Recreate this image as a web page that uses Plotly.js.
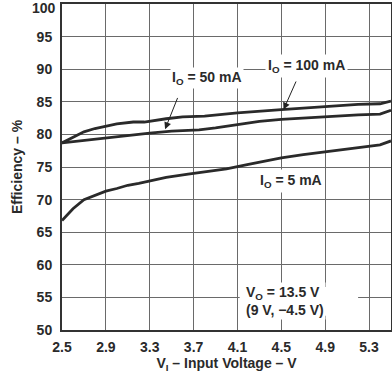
<!DOCTYPE html>
<html>
<head>
<meta charset="utf-8">
<script src="https://cdn.plot.ly/plotly-3.0.1.min.js"></script>
<style>html,body{margin:0;padding:0;background:#fff;}#chart{width:392px;height:373px;}</style>
</head>
<body>
<div id="chart"></div>
<script>
// Input voltage (V) and efficiency (%) for each load current
const x5 = [2.5, 2.6, 2.7, 2.8, 2.9, 3.0, 3.1, 3.2, 3.3, 3.45, 3.65, 3.8, 4.0, 4.2, 4.5, 4.7, 4.9, 5.1, 5.25, 5.4, 5.5];
const y5 = [66.8, 68.6, 70.0, 70.7, 71.3, 71.7, 72.2, 72.5, 72.9, 73.4, 73.9, 74.2, 74.7, 75.4, 76.4, 76.9, 77.3, 77.7, 78.1, 78.4, 79.0];

const x50 = [2.5, 2.7, 2.9, 3.1, 3.3, 3.5, 3.75, 3.9, 4.1, 4.3, 4.5, 4.7, 4.95, 5.2, 5.4, 5.5];
const y50 = [78.7, 79.1, 79.5, 79.9, 80.2, 80.5, 80.7, 81.0, 81.5, 82.0, 82.3, 82.5, 82.8, 83.0, 83.1, 83.7];

const x100 = [2.5, 2.6, 2.7, 2.8, 2.9, 3.0, 3.15, 3.25, 3.45, 3.6, 3.8, 4.1, 4.5, 4.9, 5.2, 5.4, 5.5];
const y100 = [78.7, 79.6, 80.4, 80.9, 81.3, 81.6, 81.9, 81.9, 82.4, 82.7, 82.8, 83.3, 83.8, 84.3, 84.6, 84.7, 85.1];

const xTicks = [2.5, 2.9, 3.3, 3.7, 4.1, 4.5, 4.9, 5.3];
const yTicks = [50, 55, 60, 65, 70, 75, 80, 85, 90, 95, 100];

const F = 'Liberation Sans, Arial, sans-serif';
const lineStyle = {color: '#2a2a2a', width: 2.8};

const traces = [
  {x: x5, y: y5, mode: 'lines', line: lineStyle, name: '5 mA'},
  {x: x50, y: y50, mode: 'lines', line: lineStyle, name: '50 mA'},
  {x: x100, y: y100, mode: 'lines', line: lineStyle, name: '100 mA'}
];

const txt = {family: F, size: 14, color: '#2a2a2a', weight: 'bold'};
const yTop = yTicks[yTicks.length - 1];

const layout = {
  width: 392, height: 373,
  margin: {l: 62, r: 1, t: 4, b: 43},
  paper_bgcolor: '#fff', plot_bgcolor: '#fff',
  showlegend: false,
  font: txt,
  xaxis: {
    range: [2.5, 5.5], tickvals: xTicks, ticktext: xTicks.map(v => v.toFixed(1)),
    showgrid: true, gridcolor: '#6a6a6a', gridwidth: 1,
    showline: true, mirror: true, linecolor: '#333', linewidth: 2,
    zeroline: false, ticks: '', ticklabelstandoff: 3,
    tickfont: txt,
    title: {text: 'V<sub>I</sub> – Input Voltage – V', font: txt, standoff: 4}
  },
  yaxis: {
    range: [50, 100], tickvals: yTicks,
    ticktext: yTicks.map(v => v === yTop ? '' : String(v)),
    showgrid: true, gridcolor: '#6a6a6a', gridwidth: 1,
    showline: true, mirror: true, linecolor: '#333', linewidth: 2,
    zeroline: false, ticks: '', ticklabelstandoff: 5,
    tickfont: txt,
    title: {text: 'Efficiency – %', font: txt, standoff: 11}
  },
  shapes: [
    {type: 'rect', xref: 'x', yref: 'y', x0: 4.12, x1: 5.2, y0: 52.2, y1: 56.6,
     fillcolor: '#fff', line: {width: 0}, layer: 'between'}
  ],
  annotations: [
    {x: 0, y: yTop, xref: 'paper', yref: 'y', text: String(yTop), showarrow: false, font: txt,
     xanchor: 'right', yanchor: 'top', xshift: -5, yshift: 5, borderpad: 0},
    {x: 3.82, y: 88.6, xref: 'x', yref: 'y', text: 'I<sub>O</sub> = 50 mA', showarrow: false, font: txt, bgcolor: '#fff', borderpad: 1},
    {x: 4.73, y: 90.5, xref: 'x', yref: 'y', text: 'I<sub>O</sub> = 100 mA', showarrow: false, font: txt, bgcolor: '#fff', borderpad: 2},
    {x: 4.59, y: 72.9, xref: 'x', yref: 'y', text: 'I<sub>O</sub> = 5 mA', showarrow: false, font: txt, bgcolor: '#fff', borderpad: 2},
    {x: 4.53, y: 54.4, xref: 'x', yref: 'y', text: 'V<sub>O</sub> = 13.5 V<br>(9 V, −4.5 V)', showarrow: false, font: txt, align: 'left', bgcolor: '#fff'},
    {x: 3.44, y: 80.8, xref: 'x', yref: 'y', text: ' ', showarrow: true, arrowhead: 2, arrowsize: 1.4, arrowwidth: 1, arrowcolor: '#222', ax: 16, ay: -40, standoff: 0},
    {x: 4.52, y: 83.8, xref: 'x', yref: 'y', text: ' ', showarrow: true, arrowhead: 2, arrowsize: 1.4, arrowwidth: 1, arrowcolor: '#222', ax: 16, ay: -36, standoff: 0}
  ]
};

Plotly.newPlot('chart', traces, layout, {staticPlot: true, displayModeBar: false});
</script>
</body>
</html>
